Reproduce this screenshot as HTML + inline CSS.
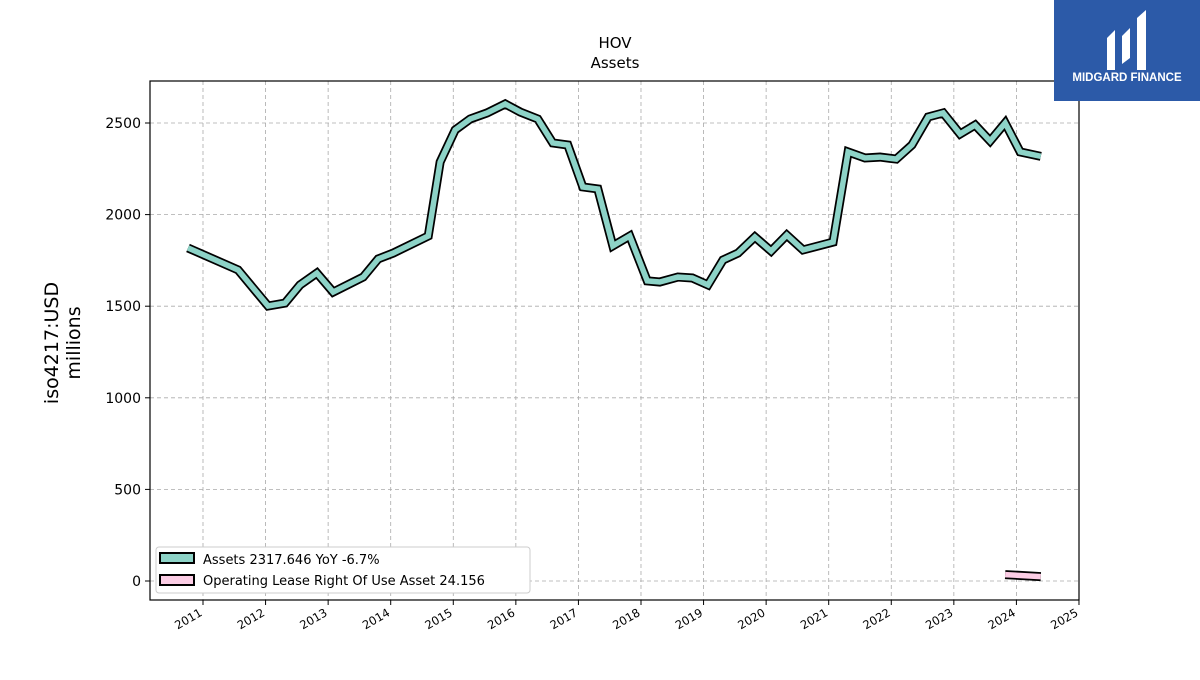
<!DOCTYPE html>
<html><head><meta charset="utf-8"><style>
body{margin:0;background:#fff;font-family:"Liberation Sans","DejaVu Sans",sans-serif;}
</style></head><body>
<svg width="1200" height="675" xmlns="http://www.w3.org/2000/svg" font-family="DejaVu Sans, Liberation Sans, sans-serif">
<rect width="1200" height="675" fill="#fff"/>
<text x="615" y="48" text-anchor="middle" font-size="15">HOV</text>
<text x="615" y="68" text-anchor="middle" font-size="15">Assets</text>
<g id="grid"></g>
<g id="marks"></g>
<rect x="150" y="81" width="929" height="519" fill="none" stroke="#000" stroke-width="1.2"/>
<g id="ticks"></g>
<text transform="translate(58,343) rotate(-90)" text-anchor="middle" font-size="19"><tspan x="0" dy="0">iso4217:USD</tspan><tspan x="0" dy="22">millions</tspan></text>
<g>
<rect x="156" y="547" width="374" height="46" rx="3" fill="#fff" stroke="#ccc"/>
<rect x="160" y="553" width="34" height="10" fill="#8dd3c7" stroke="#000" stroke-width="2"/>
<text x="203" y="564" font-size="13">Assets  2317.646 YoY -6.7%</text>
<rect x="160" y="575" width="34" height="10" fill="#fccde5" stroke="#000" stroke-width="2"/>
<text x="203" y="585" font-size="13">Operating Lease Right Of Use Asset  24.156</text>
</g>
<g>
<rect x="1054" y="0" width="146" height="101" fill="#2c5aa8"/>
<path d="M1107 38 L1115 30 L1115 70 L1107 70 Z M1122 36 L1130 28 L1130 58 L1122 64 Z M1137 18 L1146 10 L1146 70 L1137 70 Z" fill="#fff"/>
<text x="1127" y="81" text-anchor="middle" font-size="11.5" font-weight="bold" fill="#fff" font-family="Liberation Sans, sans-serif">MIDGARD FINANCE</text>
</g>
</svg>
<script>
const assetDates=[2010.76,2011.56,2012.04,2012.31,2012.55,2012.82,2013.08,2013.56,2013.80,2014.04,2014.60,2014.79,2015.03,2015.27,2015.54,2015.83,2016.07,2016.35,2016.59,2016.83,2017.07,2017.31,2017.55,2017.82,2018.10,2018.30,2018.59,2018.82,2019.07,2019.31,2019.55,2019.82,2020.08,2020.33,2020.59,2021.07,2021.31,2021.58,2021.82,2022.08,2022.33,2022.59,2022.83,2023.10,2023.34,2023.58,2023.82,2024.06,2024.39];
const assetValues=[1818,1698,1501,1517,1616,1681,1577,1659,1758,1790,1883,2287,2462,2522,2555,2604,2560,2522,2391,2380,2151,2140,1829,1883,1638,1632,1659,1654,1616,1752,1790,1878,1801,1888,1807,1850,2342,2309,2314,2303,2380,2533,2555,2440,2489,2402,2500,2342,2318];
const leaseDates=[2023.82,2024.39];
const leaseValues=[35,24.156];
const yTicks=[0,500,1000,1500,2000,2500];
const xTicks=[2011,2012,2013,2014,2015,2016,2017,2018,2019,2020,2021,2022,2023,2024,2025];
const NS="http://www.w3.org/2000/svg";
const X=d=>203+(d-2011)*62.57;
const Y=v=>581-v*0.1832;
function mk(tag,attrs,parent){const e=document.createElementNS(NS,tag);for(const k in attrs)e.setAttribute(k,attrs[k]);parent.appendChild(e);return e;}
const grid=document.getElementById('grid'),ticks=document.getElementById('ticks'),marks=document.getElementById('marks');
yTicks.forEach(v=>{
 const l=mk('line',{x1:150,x2:1079,y1:Y(v),y2:Y(v),stroke:'#aaa','stroke-dasharray':'4,3','stroke-width':0.8},grid);
 
 
 mk('line',{x1:145,x2:150,y1:Y(v),y2:Y(v),stroke:'#000'},ticks);
 const t=mk('text',{x:141,y:Y(v)+5,'text-anchor':'end','font-size':14},ticks);
 t.textContent=v;
 
 
});
xTicks.forEach(d=>{
 const x=X(d);
 if(d<2025){const l=mk('line',{x1:x,x2:x,y1:81,y2:600,stroke:'#aaa','stroke-dasharray':'4,3','stroke-width':0.8},grid);
 
 }
 mk('line',{x1:x,x2:x,y1:600,y2:605,stroke:'#000'},ticks);
 const t=mk('text',{x:x,y:615,'text-anchor':'end','font-size':11.5,transform:`rotate(-30 ${x} 615)`},ticks);
 t.textContent=d;
 
 
});
function series(ds,vs,color,name){
 const pts=ds.map((d,i)=>X(d)+','+Y(vs[i])).join(' ');
 const b=mk('polyline',{points:pts,fill:'none',stroke:'#000','stroke-width':9},marks);
 
 
 const c=mk('polyline',{points:pts,fill:'none',stroke:color,'stroke-width':5.5,'stroke-linejoin':'miter'},marks);
 
 
}
series(assetDates,assetValues,'#8dd3c7','assets');
series(leaseDates,leaseValues,'#fccde5','lease');
</script>
</body></html>
